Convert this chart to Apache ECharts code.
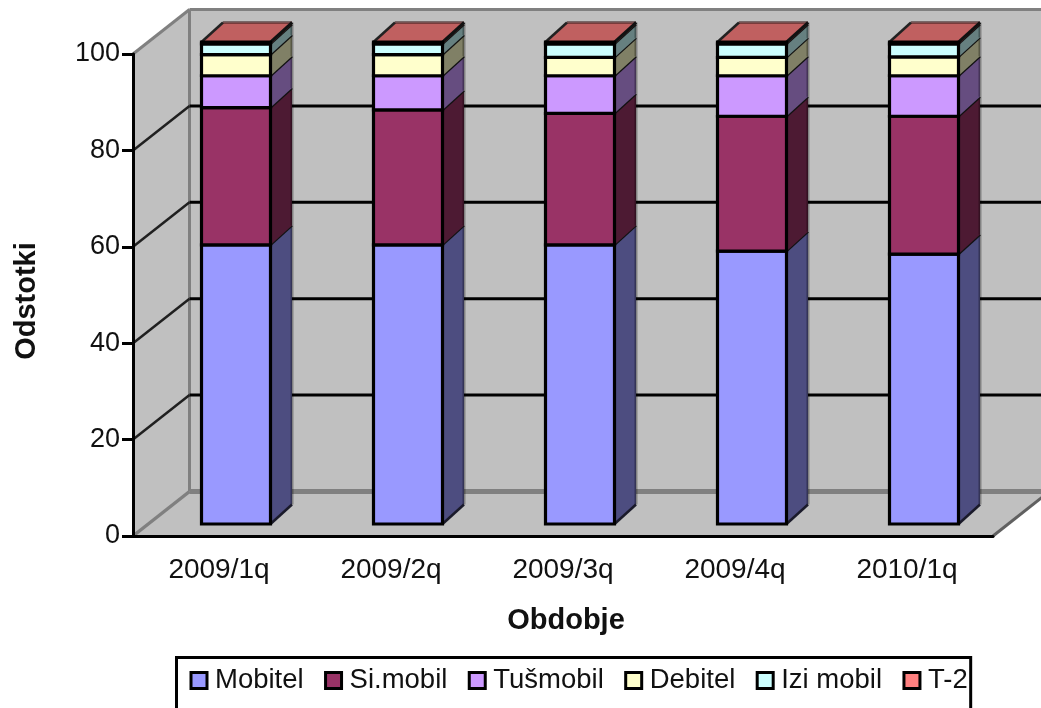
<!DOCTYPE html>
<html>
<head>
<meta charset="utf-8">
<style>html,body{margin:0;padding:0;background:#fff}#c{width:1041px;height:708px}</style>
<script src="https://cdn.jsdelivr.net/npm/echarts@6/dist/echarts.min.js"></script>
</head>
<body>
<div id="c"></div>
<script>
const categories = ['2009/1q', '2009/2q', '2009/3q', '2009/4q', '2010/1q'];
const yTicks = [0, 20, 40, 60, 80, 100];
const mobitel  = [57.9, 57.9, 57.9, 56.6, 56.0];
const simobil  = [28.5, 28.0, 27.3, 28.0, 28.6];
const tusmobil = [6.6, 7.1, 7.8, 8.4, 8.4];
const debitel  = [4.4, 4.4, 3.8, 3.8, 3.9];
const izimobil = [2.2, 2.2, 2.8, 2.8, 2.7];
const t2       = [0.4, 0.4, 0.4, 0.4, 0.4];
const seriesNames = ['Mobitel', 'Si.mobil', 'Tušmobil', 'Debitel', 'Izi mobil', 'T-2'];
const seriesValues = [mobitel, simobil, tusmobil, debitel, izimobil, t2];
const frontColors = ['#9999FF', '#993366', '#CC99FF', '#FFFFCC', '#CCFFFF', '#FF8080'];
const sideColors  = ['#4D4D80', '#4D1A33', '#664D80', '#808066', '#668080', '#804040'];
const topColor = '#C06060';

const FONT = '"Liberation Sans", Arial, sans-serif';
const WALL_DX = 56.5, WALL_DY = -44.5;
const BAR_OFF_X = 17, BAR_OFF_Y = -12, BAR_W = 69, BAR_DX = 21.5, BAR_DY = -19.5;

function line(x1, y1, x2, y2, stroke, lineWidth) {
  return {type: 'line', shape: {x1, y1, x2, y2}, style: {stroke, lineWidth, fill: null}};
}
function poly(points, fill) {
  return {type: 'polygon', shape: {points}, style: {fill, stroke: null}};
}

function renderWall(params, api) {
  const c = params.coordSys, v = api.value(1), y = api.coord([0, v])[1];
  const x0 = c.x, x1 = c.x + c.width, dx = WALL_DX, dy = WALL_DY;
  const kids = [];
  if (v === 0) {
    const top = c.y;
    kids.push(poly([[x0 + dx, top + dy], [x1 + dx, top + dy], [x1 + dx, y + dy], [x0 + dx, y + dy]], '#C0C0C0'));
    kids.push(poly([[x0, top], [x0 + dx, top + dy], [x0 + dx, y + dy], [x0, y]], '#C0C0C0'));
    kids.push(poly([[x0, y], [x1, y], [x1 + dx, y + dy], [x0 + dx, y + dy]], '#C0C0C0'));
    kids.push(line(x0 + dx, top + dy, x0 + dx, y + dy, '#808080', 3));
    kids.push(line(x0 + dx, y + dy, x1 + dx, y + dy, '#808080', 5));
    kids.push(line(x0, y, x0 + dx, y + dy, '#808080', 3.5));
    kids.push(line(x1, y, x1 + dx, y + dy, '#606060', 3));
  } else if (v === 100) {
    kids.push(line(x0 + dx, y + dy, x1 + dx, y + dy, '#808080', 3));
    kids.push(line(x0, y, x0 + dx, y + dy, '#808080', 3));
  } else {
    kids.push(line(x0 + dx, y + dy, x1 + dx, y + dy, '#000', 3));
    kids.push(line(x0, y, x0 + dx, y + dy, '#202020', 2.5));
  }
  return {type: 'group', children: kids};
}

function makeRender(si) {
  return function (params, api) {
    const idx = api.value(0);
    const lo = api.coord([idx, api.value(1)]);
    const hi = api.coord([idx, api.value(2)]);
    const xl = lo[0] + BAR_OFF_X - BAR_W / 2, xr = xl + BAR_W;
    const yb = lo[1] + BAR_OFF_Y, yt = hi[1] + BAR_OFF_Y;
    const dx = BAR_DX, dy = BAR_DY;
    const kids = [];
    kids.push(poly([[xr, yb], [xr + dx, yb + dy], [xr + dx, yt + dy], [xr, yt]], sideColors[si]));
    kids.push(line(xr + dx, yb + dy, xr + dx, yt + dy, 'rgba(0,0,0,0.32)', 3));
    if (si === 0) kids.push(line(xr, yb, xr + dx, yb + dy, '#1a1a2a', 2.5));
    kids.push(line(xr, yt, xr + dx, yt + dy, '#111', 2.5));
    if (si === seriesNames.length - 1) {
      kids.push(poly([[xl, yt], [xr, yt], [xr + dx, yt + dy], [xl + dx, yt + dy]], topColor));
      kids.push(line(xl + dx, yt + dy, xr + dx, yt + dy, 'rgba(60,30,30,0.55)', 3));
      kids.push(line(xl, yt, xl + dx, yt + dy, '#222', 2.5));
      kids.push(line(xr, yt, xr + dx, yt + dy, '#111', 3));
    }
    kids.push({type: 'rect', shape: {x: xl, y: yt, width: BAR_W, height: yb - yt},
      style: {fill: frontColors[si], stroke: '#000', lineWidth: 3.2}});
    return {type: 'group', children: kids};
  };
}

const barSeries = seriesNames.map(function (name, si) {
  const data = categories.map(function (_, i) {
    let base = 0;
    for (let k = 0; k < si; k++) base += seriesValues[k][i];
    return [i, base, base + seriesValues[si][i]];
  });
  return {
    name, type: 'custom', z: 3, silent: true, animation: false,
    coordinateSystem: 'cartesian2d', clip: false,
    itemStyle: {color: frontColors[si]},
    encode: {x: 0, y: [1, 2]},
    renderItem: makeRender(si), data
  };
});

const option = {
  animation: false,
  backgroundColor: '#fff',
  textStyle: {fontFamily: FONT},
  grid: {left: 133, right: 48, top: 54, height: 482, containLabel: false},
  legend: {
    data: seriesNames, left: 176.5, top: 657.5, orient: 'horizontal', selectedMode: false,
    backgroundColor: '#fff', borderColor: '#000', borderWidth: 3,
    padding: [9, 3, 40, 13], itemGap: 20.4, itemWidth: 16, itemHeight: 16,
    icon: 'rect',
    itemStyle: {borderColor: '#000', borderWidth: 3},
    textStyle: {fontFamily: FONT, fontSize: 27.5, color: '#111', padding: [0, 0, 6, 3]}
  },
  xAxis: {
    type: 'category', data: categories, z: 5,
    name: 'Obdobje', nameLocation: 'middle', nameGap: 70,
    nameTextStyle: {fontFamily: FONT, fontSize: 29, fontWeight: 'bold', color: '#111', padding: [0, 0, 0, 6]},
    axisLine: {lineStyle: {color: '#000', width: 3}},
    axisTick: {length: 12, lineStyle: {color: '#000', width: 3}},
    axisLabel: {fontFamily: FONT, fontSize: 28, color: '#111', margin: 20},
    splitLine: {show: false}
  },
  yAxis: {
    type: 'value', min: 0, max: 100, interval: 20, z: 5,
    name: 'Odstotki', nameLocation: 'middle', nameGap: 92, nameRotate: 90,
    nameTextStyle: {fontFamily: FONT, fontSize: 29, fontWeight: 'bold', color: '#111', padding: [0, 12, 0, 0]},
    axisLine: {show: true, lineStyle: {color: '#000', width: 3}},
    axisTick: {show: true, length: 11, lineStyle: {color: '#000', width: 3}},
    axisLabel: {fontFamily: FONT, fontSize: 27, color: '#111', margin: 13, padding: [0, 0, 6, 0]},
    splitLine: {show: false}
  },
  series: [{
    name: 'walls', type: 'custom', z: 1, silent: true, animation: false,
    coordinateSystem: 'cartesian2d', clip: false,
    encode: {x: 0, y: 1},
    renderItem: renderWall,
    data: yTicks.map(function (v) { return [0, v]; })
  }].concat(barSeries)
};

const chart = echarts.init(document.getElementById('c'), null, {renderer: 'canvas'});
chart.setOption(option);
</script>
</body>
</html>
